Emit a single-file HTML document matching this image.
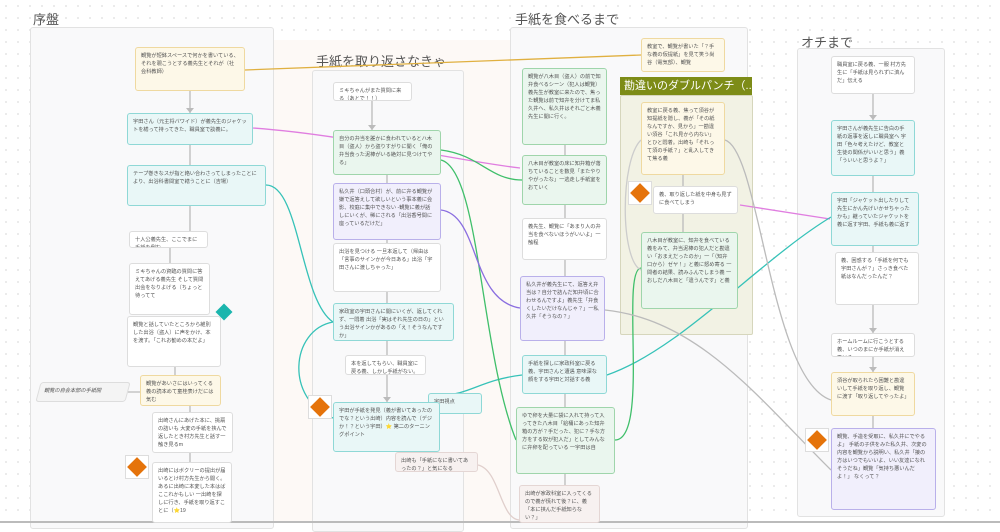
<!DOCTYPE html>
<html><head><meta charset="utf-8"><style>
body{margin:0;width:1000px;height:523px;overflow:hidden;background:#fff;font-family:"Liberation Sans","Noto Sans CJK JP",sans-serif;position:relative;
background-image:radial-gradient(#e4e4e4 0.8px,transparent 1px);background-size:12px 12px;}
.t{position:absolute;font-size:13px;color:#555;}
.c{position:absolute;background:#f9f9fa;border:1px solid #e2e2e2;border-radius:3px;}
.n{position:absolute;box-sizing:border-box;font-size:5.2px;line-height:8px;color:#555;padding:4px 5px;border-radius:3px;border:1.2px solid #ddd;background:#fff;overflow:hidden;}
.y{background:#fdf8e8;border-color:#efd9a0}
.cy{background:#e9f7f7;border-color:#8fd8d6}
.g{background:#eaf6ee;border-color:#9fd5ab}
.p{background:#f1effc;border-color:#b9b0ea}
.pk{background:#f7f1f0;border-color:#e4d6d4}
.d{position:absolute;width:22px;height:22px;background:#fff;border:1px solid #ddd;}
.d:after{content:"";position:absolute;left:4px;top:4px;width:14px;height:14px;background:#e5730a;transform:rotate(45deg);}
</style></head><body>
<div style="position:absolute;left:272px;top:40px;width:238px;height:483px;background:#fdf9f6"></div>
<div class="t" style="left:33px;top:9px">序盤</div>
<div class="c" style="left:30px;top:27px;width:242px;height:500px"></div>
<div class="t" style="left:316px;top:51px">手紙を取り返さなきゃ</div>
<div class="c" style="left:312px;top:70px;width:150px;height:460px"></div>
<div class="t" style="left:515px;top:9px">手紙を食べるまで</div>
<div class="c" style="left:510px;top:27px;width:236px;height:500px"></div>
<div class="t" style="left:801px;top:32px">オチまで</div>
<div class="c" style="left:797px;top:48px;width:146px;height:467px"></div>
<div style="position:absolute;left:620px;top:95px;width:131px;height:238px;background:#f2f2e4;border:1px solid #d6d6bc;border-radius:2px"></div>
<div style="position:absolute;left:620px;top:77px;width:132px;height:18px;background:#7d8c17;color:#fff;font-size:11px;line-height:18px;padding-left:4px;box-sizing:border-box;white-space:nowrap">勘違いのダブルパンチ（...</div>
<div style="position:absolute;left:0;top:521px;width:1000px;height:2px;background:#bbb"></div>

<svg style="position:absolute;left:0;top:0" width="1000" height="523" fill="none" stroke-width="1.3">
<path d="M245 70 L641 55" stroke="#e0b040"/>
<path d="M253 128 C350 135 450 160 520 168" stroke="#e07ee0"/>
<path d="M740 205 L830 219" stroke="#e07ee0"/>
<path d="M266 185 C300 185 300 300 333 322" stroke="#36c2b8"/>
<path d="M333 322 C290 330 285 400 333 418" stroke="#36c2b8"/>
<path d="M441 395 C470 395 480 380 522 375" stroke="#36c2b8"/>
<path d="M607 375 C680 350 760 260 831 217" stroke="#36c2b8"/>
<path d="M441 150 C480 155 490 180 522 180" stroke="#3fbf6a"/>
<path d="M441 160 C480 170 480 350 516 440" stroke="#3fbf6a"/>
<path d="M615 440 C650 440 620 270 641 268" stroke="#3fbf6a"/>
<path d="M441 210 C480 215 470 300 520 308" stroke="#8a6ee0"/>
<path d="M605 310 C700 320 760 400 831 470" stroke="#bbb"/>
<path d="M725 140 C760 150 770 380 831 400" stroke="#bbb"/>
<path d="M641 140 C620 160 620 260 641 270" stroke="#ccc"/>
<path d="M478 465 C500 470 500 520 520 520" stroke="#e0cfcc"/>
<g stroke="#bbb"><path d="M190 91V113M190 145V165M190 206V231M170 248V263M175 367V375M128 392H140M190 406V412M190 453V462M372 101V130M387 175V183M387 240V243M387 292V303M387 341V355M387 375V402M565 145V155M565 205V218M565 260V276M565 341V355M565 394V407M565 474V485M683 175V186M683 214V232M873 94V120M873 176V192M873 246V252M873 305V333M873 357V372M873 416V428"/></g>
<g fill="#bbb" stroke="none"><path d="M186 108L194 108L190 113Z M869 115L877 115L873 120Z M869 328L877 328L873 333Z M869 367L877 367L873 372Z M383 397L391 397L387 402Z M368 125L376 125L372 130Z"/></g>
</svg>

<div class="n y" style="left:135px;top:47px;width:110px;height:44px">観覧が短鉢スペースで何かを書いている、それを覗こうとする義先生とそれが（社会科教師）</div>
<div class="n cy" style="left:127px;top:113px;width:126px;height:32px">宇田さん（元主将バワイド）が義先生のジャケットを繕って持ってきた、職員室で談義に。</div>
<div class="n cy" style="left:127px;top:165px;width:139px;height:41px">テープ巻きなスが指と絡い合わさってしまったことにより、出浴科書間室で繕うことに（吉場）</div>
<div class="n" style="left:129px;top:231px;width:79px;height:17px">十人公義先生、ここでまに手紙を倒む</div>
<div class="n" style="left:129px;top:263px;width:81px;height:52px">ミキちゃんの資臨の質問に答えてあげる義先生 そして質問出会をなりよげる（ちょっと待ってて</div>
<div class="n" style="left:127px;top:316px;width:94px;height:51px">観覧と話していたところから維別した出浴（盗人）に声をかけ、本を渡す。「これお勧めの本だよ」</div>
<div style="position:absolute;left:215px;top:303px;width:18px;height:18px"><div style="position:absolute;left:3px;top:3px;width:12px;height:12px;background:#1bb5ad;transform:rotate(45deg)"></div></div>
<div class="n" style="left:38px;top:382px;width:90px;height:20px;background:#f4f4f4;transform:skewX(-15deg)">観覧の自会本部の手紙開</div>
<div class="n y" style="left:140px;top:375px;width:81px;height:31px">観覧があいさにはいってくる 義の読本めて童桂表けだには気む</div>
<div class="n" style="left:152px;top:412px;width:81px;height:41px">出崎さんにあげた本に、挑扇の詰いも 大変の手紙を挟んで返したとき村方先生と話す一触き見るm</div>
<div class="d" style="left:125px;top:455px"></div>
<div class="n" style="left:152px;top:462px;width:80px;height:61px">出崎にはボクリーの提出が届いるとけ村方先生から聞く。あるに出崎に本変した本はばここれかもしい 一出崎を探しに行き、手紙を取り返すことに（⭐19</div>

<div class="n" style="left:333px;top:82px;width:79px;height:19px">ミキちゃんがまた質問に来る（あとで！！）</div>
<div class="n g" style="left:333px;top:130px;width:108px;height:45px">自分の弁当を誰かに食われているとハ木目（盗人）から盗りすがりに聞く「俺の弁当食った泥棒がいる絶対に見つけてやる」</div>
<div class="n p" style="left:333px;top:183px;width:108px;height:57px">私久井（口頭合村）が、前に弁る観覧が嫌で返答えして欲しいという事本義に会影、校庭に集中できない -観覧に義が話しにいくが、稀にされる「出浴香号間に座っているだけだ」</div>
<div class="n" style="left:333px;top:243px;width:108px;height:49px">出浴を見つける 一旦本返して（帰由は「言事のサインかが今日ある」出浴「宇田さんに渡しちゃった」</div>
<div class="n cy" style="left:333px;top:303px;width:121px;height:38px">家政室の宇田さんに聞にいくが、返してくれず、一悶着 出浴「実はそれ先生の日の」という出浴サインかがあるの「え！そうなんですか」</div>
<div class="n" style="left:345px;top:355px;width:81px;height:20px">本を返してもらい、職員室に戻る義、しかし手紙がない。</div>
<div class="d" style="left:308px;top:395px"></div>
<div class="n cy" style="left:428px;top:393px;width:54px;height:21px">宇田視点</div>
<div class="n cy" style="left:333px;top:402px;width:107px;height:50px">宇田が手紙を発見（義が書いてあったのでな？という出崎）内容を読んで（デジか！？という宇田）⭐ 第二のターニングポイント</div>
<div class="n pk" style="left:395px;top:452px;width:83px;height:20px">出崎も「手紙になに書いてあったの？」と気になる</div>

<div class="n y" style="left:641px;top:38px;width:84px;height:34px">教室で、観覧が書いた「？手な義の仮提紙」を見て笑う尚谷（電気部）、観覧</div>
<div class="n g" style="left:522px;top:68px;width:85px;height:77px">観覧が八木目（盗人）の前で知弁食べるシーン（犯人は観覧）義先生が教室に来たので、焦った観覧は前で知弁を分けてま私久井へ、私久井はそれごと木義先生に聞に行く。</div>
<div class="n g" style="left:522px;top:155px;width:85px;height:50px">八木目が教室の床に知弁箱が落ちていることを数見「またやりやがったな」一逃走し手紙室をおていく</div>
<div class="n" style="left:522px;top:218px;width:85px;height:42px">義先生、観覧に「あまり人の弁当を食べないほうがいいよ」一触程</div>
<div class="n p" style="left:520px;top:276px;width:85px;height:65px">私久井が義先生にて、返答え弁当は？自分で詰んだ知弁頃に合わせるんですよ」義先生「弁食くしたいだけなんじゃ？」一私久井「そうなの？」</div>
<div class="n cy" style="left:522px;top:355px;width:85px;height:39px">手紙を探しに家政科室に戻る義、宇田さんと遭遇 意味深な顔をする宇田と対話する義</div>
<div class="n g" style="left:516px;top:407px;width:99px;height:67px">ゆで卵を大量に袋に入れて持って入ってきた八木目「給桶にあった知弁箱の方が？手だった、犯に？手な方方をする奴が犯人だ」としてみんなに弁卵を配っている 一宇田は自</div>
<div class="n pk" style="left:519px;top:485px;width:81px;height:38px">出崎が家政科室に入ってくるので義が慌れて後？に、義「本に挟んだ手紙知らない？」</div>

<div class="n y" style="left:641px;top:102px;width:84px;height:73px">教室に戻る義、焦って須谷が知提紙を隠し、義が「その紙なんですか、見から」一勘違い須谷「これ見から内ない」とひと悶着。出崎も「それって須の手紙？」と乱入してきて焦る義</div>
<div class="d" style="left:628px;top:181px"></div>
<div class="n" style="left:653px;top:186px;width:85px;height:28px">義、取り返した紙を中身も見ずに食べてしまう</div>
<div class="n g" style="left:641px;top:232px;width:97px;height:77px">八木目が教室に、知弁を食べている義をみて、弁当泥棒の犯人だと勘違い「おまえだったのか」一「（知弁口から）ゼヤ！」と義に怒め寄る 一問者の結果、読みふんでしまう義 一おしだ八木目と「違うんです」と義</div>

<div class="n" style="left:831px;top:56px;width:84px;height:38px">職員室に戻る義、一服 村方先生に「手紙は見られずに済んだ」伝える</div>
<div class="n cy" style="left:831px;top:120px;width:84px;height:56px">宇田さんが義先生に告白の手紙の返事を返しに職員室へ 宇田「色々考えたけど、教室と生徒の関係がいいと思う」義「ういいと思うよ？」</div>
<div class="n cy" style="left:831px;top:192px;width:88px;height:54px">宇田「ジャケット出したりして先生にかん先げいかせちゃったかも」継っていたジャケットを義に返す宇田、手紙も義に返す</div>
<div class="n" style="left:835px;top:252px;width:84px;height:53px">義、困惑する「手紙を何でも宇田さんが？」さっき食べた紙はなんだったんだ？</div>
<div class="n" style="left:831px;top:333px;width:84px;height:24px">ホームルームに行こうとする義、いつのまにか手紙が消えている</div>
<div class="n y" style="left:831px;top:372px;width:84px;height:44px">須谷が取られたら困難と勘違いして手紙を取り返し、観覧に渡す「取り返してやったよ」</div>
<div class="d" style="left:805px;top:428px"></div>
<div class="n p" style="left:831px;top:428px;width:105px;height:82px">観覧、手造を受取に、私久井にでやるよ」 手紙の子供をみた私久井、次変の内容を観覧から説明い、私久井「接の方はいつでもいいよ、いい友達になれそうだね」観覧「気持ち悪いんだよ！」 なくって？</div>
</body></html>
